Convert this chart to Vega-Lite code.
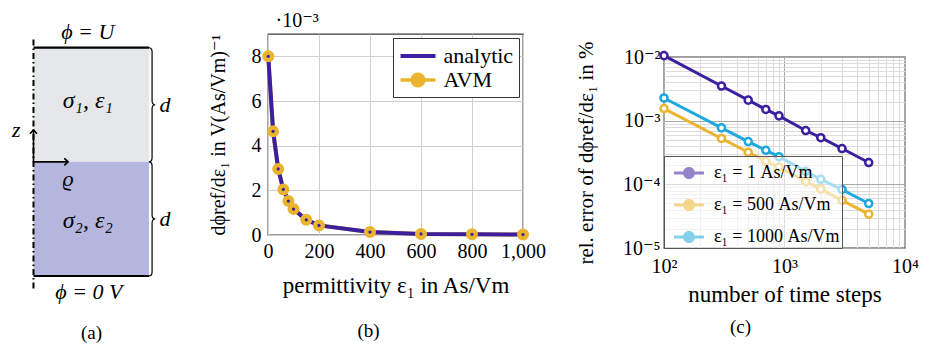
{
  "$schema": "https://vega.github.io/schema/vega-lite/v6.json",
  "padding": {"left": 0, "top": 9, "right": 0, "bottom": 0},
  "background": "white",
  "config": {
    "font": "Liberation Serif, DejaVu Serif, serif",
    "view": {"stroke": "#3a3a3a", "strokeWidth": 1.3},
    "axis": {"labelFont": "Liberation Serif, DejaVu Serif, serif", "titleFont": "Liberation Serif, DejaVu Serif, serif", "labelColor": "black", "titleColor": "black", "titleFontWeight": "normal", "domain": false, "ticks": false, "labelFontSize": 20, "titleFontSize": 23, "gridColor": "#cfcfcf", "gridWidth": 1, "gridOpacity": 1, "labelFlush": false, "labelOverlap": false},
    "legend": {"labelFont": "Liberation Serif, DejaVu Serif, serif", "labelColor": "black"},
    "style": {"guide-label": {"font": "Liberation Serif, DejaVu Serif, serif"}, "guide-title": {"font": "Liberation Serif, DejaVu Serif, serif"}},
    "title": {"font": "Liberation Serif, DejaVu Serif, serif", "fontWeight": "normal", "color": "black", "fontSize": 19},
    "text": {"font": "Liberation Serif, DejaVu Serif, serif"}
  },
  "datasets": {
    "a_regions": [{"region": "upper", "x": 0, "x2": 1, "z": 0, "z2": 1}, {"region": "lower", "x": 0, "x2": 1, "z": -1, "z2": 0}],
    "a_electrodes": [{"x": 0, "x2": 1, "z": 1}, {"x": 0, "x2": 1, "z": -1}],
    "a_symaxis": [{"x": 0, "z": -1.11, "z2": 1.08}],
    "a_arrows": [{"x": 0, "x2": 0, "z": 0, "z2": 0.28}, {"x": 0, "x2": 0.3, "z": 0, "z2": 0}],
    "a_zhead": [{"x": 0, "z": 0.28}],
    "a_rhead": [{"x": 0.3, "z": 0}],
    "a_braces": [{"x": 1, "z": 0.5}, {"x": 1, "z": -0.5}],
    "a_labels": [
      {"x": 0.47, "z": 1.14, "label": "ϕ = U"},
      {"x": 0.48, "z": -1.14, "label": "ϕ = 0 V"},
      {"x": 1.14, "z": 0.5, "label": "d"},
      {"x": 1.14, "z": -0.5, "label": "d"},
      {"x": -0.15, "z": 0.28, "label": "z"},
      {"x": 0.3, "z": -0.15, "label": "ϱ"}
    ],
    "a_labels_big": [
      {"x": 0.47, "z": 0.53, "label": "σ₁, ε₁"},
      {"x": 0.47, "z": -0.52, "label": "σ₂, ε₂"}
    ],
    "b": [
      {"eps": 1, "val": 8.0, "method": "analytic"}, {"eps": 20, "val": 4.64, "method": "analytic"}, {"eps": 40, "val": 2.96, "method": "analytic"}, {"eps": 60, "val": 2.04, "method": "analytic"}, {"eps": 80, "val": 1.52, "method": "analytic"}, {"eps": 100, "val": 1.16, "method": "analytic"}, {"eps": 150, "val": 0.68, "method": "analytic"}, {"eps": 200, "val": 0.43, "method": "analytic"}, {"eps": 400, "val": 0.13, "method": "analytic"}, {"eps": 600, "val": 0.05, "method": "analytic"}, {"eps": 800, "val": 0.03, "method": "analytic"}, {"eps": 1000, "val": 0.02, "method": "analytic"},
      {"eps": 1, "val": 8.0, "method": "AVM"}, {"eps": 20, "val": 4.64, "method": "AVM"}, {"eps": 40, "val": 2.96, "method": "AVM"}, {"eps": 60, "val": 2.04, "method": "AVM"}, {"eps": 80, "val": 1.52, "method": "AVM"}, {"eps": 100, "val": 1.16, "method": "AVM"}, {"eps": 150, "val": 0.68, "method": "AVM"}, {"eps": 200, "val": 0.43, "method": "AVM"}, {"eps": 400, "val": 0.13, "method": "AVM"}, {"eps": 600, "val": 0.05, "method": "AVM"}, {"eps": 800, "val": 0.03, "method": "AVM"}, {"eps": 1000, "val": 0.02, "method": "AVM"}
    ],
    "c": [
      {"n": 100, "err": 0.0105, "series": "1"}, {"n": 300, "err": 0.0035, "series": "1"}, {"n": 500, "err": 0.0021, "series": "1"}, {"n": 700, "err": 0.0015, "series": "1"}, {"n": 900, "err": 0.00119, "series": "1"}, {"n": 1500, "err": 0.0007, "series": "1"}, {"n": 2000, "err": 0.00054, "series": "1"}, {"n": 3000, "err": 0.000365, "series": "1"}, {"n": 5000, "err": 0.00022, "series": "1"},
      {"n": 100, "err": 0.00155, "series": "500"}, {"n": 300, "err": 0.000525, "series": "500"}, {"n": 500, "err": 0.00032, "series": "500"}, {"n": 700, "err": 0.00023, "series": "500"}, {"n": 900, "err": 0.000187, "series": "500"}, {"n": 1500, "err": 0.00011, "series": "500"}, {"n": 2000, "err": 0.000084, "series": "500"}, {"n": 3000, "err": 0.000056, "series": "500"}, {"n": 5000, "err": 0.000034, "series": "500"},
      {"n": 100, "err": 0.00227, "series": "1000"}, {"n": 300, "err": 0.00077, "series": "1000"}, {"n": 500, "err": 0.00047, "series": "1000"}, {"n": 700, "err": 0.000342, "series": "1000"}, {"n": 900, "err": 0.000272, "series": "1000"}, {"n": 1500, "err": 0.00016, "series": "1000"}, {"n": 2000, "err": 0.00012, "series": "1000"}, {"n": 3000, "err": 0.000083, "series": "1000"}, {"n": 5000, "err": 0.00005, "series": "1000"}
    ]
  },
  "spacing": 141,
  "bounds": "flush",
  "resolve": {
    "scale": {"color": "independent", "shape": "independent", "stroke": "independent"},
    "legend": {"color": "independent", "shape": "independent", "stroke": "independent"}
  },
  "hconcat": [
    {
      "width": 127,
      "height": 242,
      "view": {"stroke": null},
      "title": {"text": "(a)", "orient": "bottom", "frame": "group", "anchor": "middle", "offset": 21, "dx": 28},
      "encoding": {
        "x": {"field": "x", "type": "quantitative", "scale": {"domain": [-0.29, 0.81], "nice": false, "zero": false}, "axis": null},
        "y": {"field": "z", "type": "quantitative", "scale": {"domain": [-1, 1.12], "nice": false, "zero": false}, "axis": null}
      },
      "layer": [
        {"data": {"name": "a_regions"}, "mark": {"type": "rect"}, "encoding": {"x2": {"field": "x2"}, "y2": {"field": "z2"}, "fill": {"field": "region", "type": "nominal", "scale": {"domain": ["upper", "lower"], "range": ["#e6e7e8", "#b4b6de"]}, "legend": null}}},
        {"data": {"name": "a_electrodes"}, "mark": {"type": "rule", "color": "black", "strokeWidth": 2.2}, "encoding": {"x2": {"field": "x2"}}},
        {"data": {"name": "a_symaxis"}, "mark": {"type": "rule", "color": "black", "strokeWidth": 2, "strokeDash": [6, 3, 1.5, 3]}, "encoding": {"y2": {"field": "z2"}}},
        {"data": {"name": "a_arrows"}, "mark": {"type": "rule", "color": "black", "strokeWidth": 1.6}, "encoding": {"x2": {"field": "x2"}, "y2": {"field": "z2"}}},
        {"data": {"name": "a_zhead"}, "mark": {"type": "point", "shape": "M-1,1.1L0,0L1,1.1", "filled": false, "color": "black", "strokeWidth": 1.6, "size": 49, "opacity": 1}},
        {"data": {"name": "a_rhead"}, "mark": {"type": "point", "shape": "M-1,1.1L0,0L1,1.1", "angle": 90, "filled": false, "color": "black", "strokeWidth": 1.6, "size": 49, "opacity": 1}},
        {"data": {"name": "a_braces"}, "mark": {"type": "point", "shape": "M0,-1C0.04,-1 0.055,-0.98 0.055,-0.93L0.055,-0.07C0.055,-0.02 0.08,0 0.11,0C0.08,0 0.055,0.02 0.055,0.07L0.055,0.93C0.055,0.98 0.04,1 0,1", "filled": false, "color": "black", "strokeWidth": 1.2, "size": 12996, "opacity": 1}},
        {"data": {"name": "a_labels"}, "mark": {"type": "text", "font": "Liberation Serif, DejaVu Serif, serif", "fontSize": 22, "fontStyle": "italic", "color": "black", "align": "center", "baseline": "middle"}, "encoding": {"text": {"field": "label", "type": "nominal"}}},
        {"data": {"name": "a_labels_big"}, "mark": {"type": "text", "font": "Liberation Serif, DejaVu Serif, serif", "fontSize": 24, "fontStyle": "italic", "color": "black", "align": "center", "baseline": "middle"}, "encoding": {"text": {"field": "label", "type": "nominal"}}}
      ]
    },
    {
      "width": 255,
      "height": 201,
      "title": {"text": "(b)", "orient": "bottom", "frame": "group", "anchor": "middle", "offset": 25, "dx": -27},
      "data": {"name": "b"},
      "encoding": {
        "x": {"field": "eps", "type": "quantitative", "scale": {"domain": [0, 1000], "nice": false}, "axis": {"values": [0, 200, 400, 600, 800, 1000], "format": ",d", "grid": true, "title": "permittivity ε₁ in As/Vm", "labelFont": "Liberation Serif, DejaVu Serif, serif", "titleFont": "Liberation Serif, DejaVu Serif, serif", "labelPadding": 6, "titlePadding": 13}}
      },
      "layer": [
        {
          "mark": {"type": "point", "filled": true, "opacity": 0, "size": 10},
          "encoding": {
            "y": {"field": "val", "type": "quantitative", "scale": {"domain": [0, 9], "nice": false}, "axis": null},
            "color": {"field": "method", "type": "nominal", "scale": {"domain": ["analytic", "AVM"], "range": ["#3b1f9f", "#ebb42e"]},
              "legend": {"orient": "top-right", "offset": 4, "title": null, "symbolSize": 625, "symbolOffset": 7, "labelOffset": 13, "labelFontSize": 22, "labelFont": "Liberation Serif, DejaVu Serif, serif", "padding": 5.5, "rowPadding": 0, "fillColor": "white", "strokeColor": "#333333", "symbolOpacity": 1, "symbolStrokeWidth": 0}},
            "shape": {"field": "method", "type": "nominal", "scale": {"domain": ["analytic", "AVM"], "range": ["M-1.4,-0.16L1.4,-0.16L1.4,0.16L-1.4,0.16Z", "M-1.4,-0.14L1.4,-0.14L1.4,0.14L-1.4,0.14Z M0.6,0A0.6,0.6 0 1,1 -0.6,0A0.6,0.6 0 1,1 0.6,0Z"]},
              "legend": {"orient": "top-right", "offset": 4, "title": null, "symbolSize": 625, "symbolOffset": 7, "labelOffset": 13, "labelFontSize": 22, "labelFont": "Liberation Serif, DejaVu Serif, serif", "padding": 5.5, "rowPadding": 0, "fillColor": "white", "strokeColor": "#333333", "symbolOpacity": 1, "symbolStrokeWidth": 0}}
          }
        },
        {
          "transform": [{"filter": "datum.method == 'AVM'"}],
          "mark": {"type": "line", "strokeWidth": 4, "color": "#ebb42e"},
          "encoding": {"y": {"field": "val", "type": "quantitative", "axis": null}}
        },
        {
          "transform": [{"filter": "datum.method == 'analytic'"}],
          "mark": {"type": "line", "strokeWidth": 4, "color": "#3b1f9f"},
          "encoding": {"y": {"field": "val", "type": "quantitative", "axis": {"values": [0, 2, 4, 6, 8], "grid": true, "title": "dϕref/dε₁ in V(As/Vm)⁻¹", "labelFont": "Liberation Serif, DejaVu Serif, serif", "titleFont": "Liberation Serif, DejaVu Serif, serif", "titleFontSize": 20, "labelPadding": 7, "titlePadding": 23}}}
        },
        {
          "transform": [{"filter": "datum.method == 'AVM'"}],
          "mark": {"type": "point", "filled": true, "size": 100, "color": "#ebb42e", "stroke": "#ebb42e", "strokeWidth": 2, "opacity": 1},
          "encoding": {"y": {"field": "val", "type": "quantitative", "axis": {"orient": "left", "title": "·10⁻³", "titleFont": "Liberation Serif, DejaVu Serif, serif", "labels": false, "grid": false, "titleAngle": 0, "titleX": 7, "titleY": -8, "titleAlign": "left", "titleBaseline": "alphabetic", "titleFontSize": 20}}}
        },
        {
          "transform": [{"filter": "datum.method == 'AVM'"}],
          "mark": {"type": "point", "filled": true, "size": 10, "color": "#3b1f9f", "opacity": 1},
          "encoding": {"y": {"field": "val", "type": "quantitative", "axis": null}}
        }
      ],
      "resolve": {"axis": {"y": "independent"}}
    },
    {
      "spacing": 0,
      "bounds": "flush",
      "resolve": {
        "scale": {"color": "independent", "stroke": "independent"},
        "legend": {"color": "independent", "stroke": "independent"}
      },
      "vconcat": [
        {"width": 241, "height": 23, "view": {"stroke": null}, "data": {"values": [{"t": ""}]}, "mark": "text", "encoding": {"text": {"field": "t", "type": "nominal"}}},
        {
          "width": 241,
          "height": 191,
          "title": {"text": "(c)", "orient": "bottom", "frame": "group", "anchor": "middle", "offset": 12, "dx": -44},
          "data": {"name": "c"},
          "encoding": {
            "x": {"field": "n", "type": "quantitative", "scale": {"type": "log", "domain": [100, 10000], "nice": false},
              "axis": {"values": [100, 200, 300, 400, 500, 600, 700, 800, 900, 1000, 2000, 3000, 4000, 5000, 6000, 7000, 8000, 9000, 10000],
                "labelExpr": "datum.value == 100 ? '10²' : datum.value == 1000 ? '10³' : datum.value == 10000 ? '10⁴' : ''",
                "grid": true, "gridColor": {"condition": {"test": "datum.value == 100 || datum.value == 1000 || datum.value == 10000", "value": "#a9a9a9"}, "value": "#dcdcdc"},
                "title": "number of time steps", "labelFont": "Liberation Serif, DejaVu Serif, serif", "titleFont": "Liberation Serif, DejaVu Serif, serif", "labelPadding": 8, "titlePadding": 7}},
            "y": {"field": "err", "type": "quantitative", "scale": {"type": "log", "domain": [0.00001, 0.01], "nice": false},
              "axis": {"values": [0.00001, 0.00002, 0.00003, 0.00004, 0.00005, 0.00006, 0.00007, 0.00008, 0.00009, 0.0001, 0.0002, 0.0003, 0.0004, 0.0005, 0.0006, 0.0007, 0.0008, 0.0009, 0.001, 0.002, 0.003, 0.004, 0.005, 0.006, 0.007, 0.008, 0.009, 0.01],
                "labelExpr": "datum.value == 0.01 ? '10⁻²' : datum.value == 0.001 ? '10⁻³' : datum.value == 0.0001 ? '10⁻⁴' : datum.value == 0.00001 ? '10⁻⁵' : ''",
                "grid": true, "gridColor": {"condition": {"test": "datum.value == 0.01 || datum.value == 0.001 || datum.value == 0.0001 || datum.value == 0.00001", "value": "#a9a9a9"}, "value": "#dcdcdc"},
                "title": "rel. error of dϕref/dε₁ in %", "labelFont": "Liberation Serif, DejaVu Serif, serif", "titleFont": "Liberation Serif, DejaVu Serif, serif", "titleFontSize": 21, "labelPadding": 4, "titlePadding": 26}}
          },
          "layer": [
            {"mark": {"type": "line", "strokeWidth": 3}, "encoding": {"stroke": {"field": "series", "type": "nominal", "scale": {"domain": ["1000", "500", "1"], "range": ["#1ea8dc", "#ebb42e", "#3b1f9f"]}, "legend": null}}},
            {"mark": {"type": "point", "filled": false, "fill": "white", "size": 50, "strokeWidth": 2.5, "opacity": 1}, "encoding": {"stroke": {"field": "series", "type": "nominal", "legend": null}}},
            {"mark": {"type": "point", "filled": true, "opacity": 0, "size": 10},
              "encoding": {"color": {"field": "series", "type": "nominal", "scale": {"domain": ["1", "500", "1000"], "range": ["#3b1f9f", "#ebb42e", "#1ea8dc"]},
                "legend": {"orient": "bottom-left", "offset": 0, "title": null, "symbolType": "M-1,-0.1L1,-0.1L1,0.1L-1,0.1Z M0.4,0A0.4,0.4 0 1,1 -0.4,0A0.4,0.4 0 1,1 0.4,0Z", "symbolSize": 900, "symbolOffset": 8, "symbolOpacity": 0.55, "symbolStrokeWidth": 0, "labelOffset": 10, "labelFontSize": 18, "labelFont": "Liberation Serif, DejaVu Serif, serif", "padding": 2, "rowPadding": 8, "fillColor": "rgba(255,255,255,0.6)", "strokeColor": "#555555",
                  "labelExpr": "'ε₁ = ' + datum.label + ' As/Vm'"}}}}
          ]
        }
      ]
    }
  ]
}
